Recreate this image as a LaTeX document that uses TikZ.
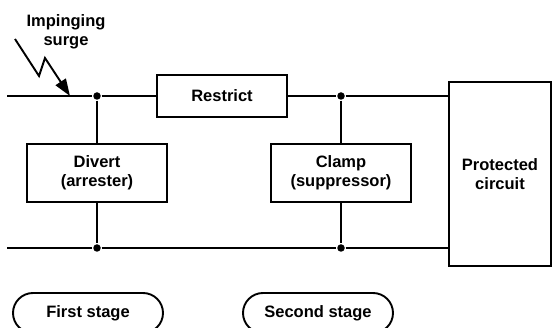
\documentclass[tikz,border=0pt]{standalone}
\usepackage{fontspec}
\setmainfont{Liberation Sans}
\usetikzlibrary{arrows.meta}
\begin{document}
\begin{tikzpicture}[x=1pt,y=-1pt,line width=1.9pt,
  txt/.style={font=\fontsize{16.5}{19}\selectfont\bfseries, align=center},
  box/.style={txt, draw, rectangle, inner sep=0pt},
  stage/.style={txt, draw, rectangle, rounded corners=20pt, minimum width=150pt, minimum height=40pt, inner sep=0pt},
  dot/.style={circle, fill, inner sep=0pt, minimum size=7.5pt}]
\useasboundingbox (0,0) rectangle (552,328);
\clip (0,0) rectangle (552,328);
% boxes
\node[box, minimum width=130pt, minimum height=42pt] (restrict) at (222,96) {Restrict};
\node[box, minimum width=140pt, minimum height=58pt] (divert) at (97,173) {Divert\\(arrester)};
\node[box, minimum width=140pt, minimum height=58pt] (clamp) at (341,173) {Clamp\\(suppressor)};
\node[box, minimum width=102pt, minimum height=184pt] (prot) at (500,174) {Protected\\circuit};
% junction dots
\node[dot] (d1) at (97,96) {};
\node[dot] (d2) at (341,96) {};
\node[dot] (d3) at (97,248) {};
\node[dot] (d4) at (341,248) {};
\coordinate (tl) at (7,96);
\coordinate (bl) at (7,248);
% wires
\draw (tl) -- (d1) -- (restrict.west);
\draw (restrict.east) -- (d2) -- (d2 -| prot.west);
\draw (bl) -- (d3) -- (d4) -- (d4 -| prot.west);
\draw (d1) -- (divert.north);
\draw (divert.south) -- (d3);
\draw (d2) -- (clamp.north);
\draw (clamp.south) -- (d4);
% surge
\node[txt] (lbl) at (66,32) {Impinging\\surge};
\coordinate (s0) at (15,39);
\coordinate (s1) at (39,76);
\coordinate (s2) at (45,58);
\coordinate (hit) at (70,96);
\draw[-{Triangle[length=17pt,width=12pt]}, line join=miter] (s0) -- (s1) -- (s2) -- (hit);
% stages
\node[stage] (first) at (88,313) {First stage};
\node[stage] (second) at (318,313) {Second stage};
\end{tikzpicture}
\end{document}
